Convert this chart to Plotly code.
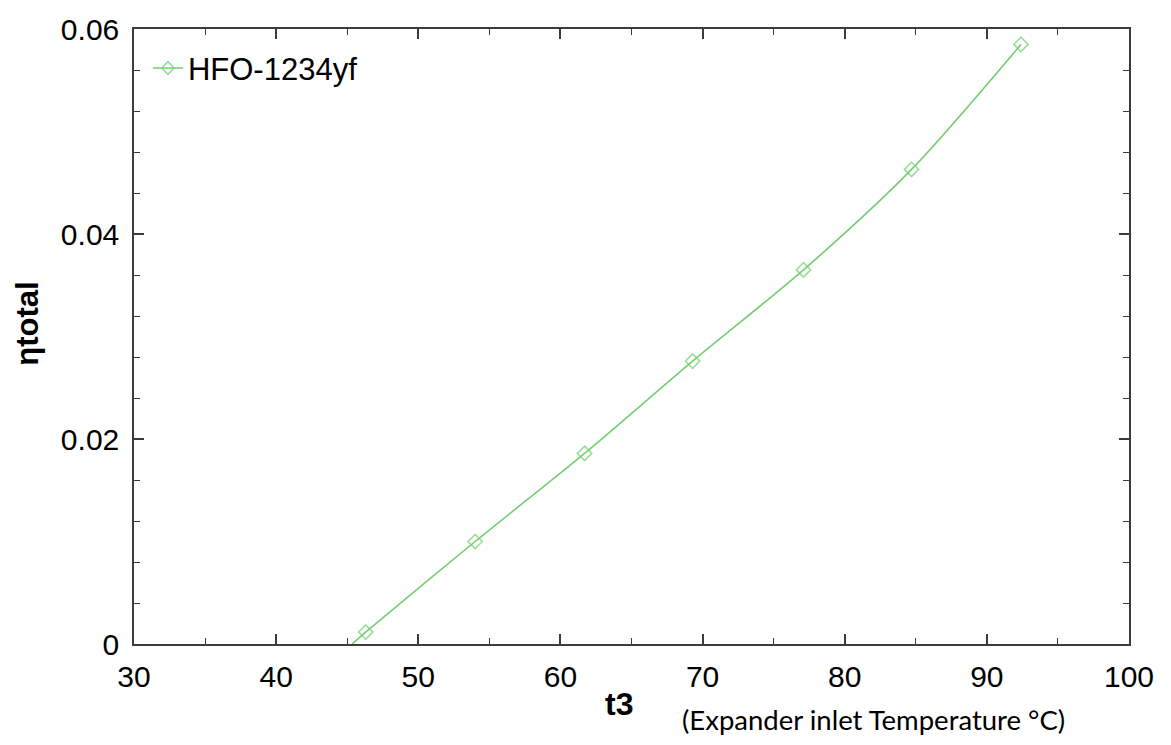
import plotly.graph_objects as go

# Expander inlet temperature (°C) and total cycle efficiency for HFO-1234yf
t3 = [46.3, 54.0, 61.7, 69.3, 77.1, 84.7, 92.4]
eta_total = [0.00116, 0.0100, 0.0186, 0.0276, 0.0365, 0.0463, 0.0585]

# the fitted curve is continued down to the zero-efficiency point
t3_zero = 45.35
eta_zero = 0.0

series_name = "HFO-1234yf"
x_title = "t3"
x_note = "(Expander inlet Temperature °C)"
y_title = "ηtotal"

green = "#74cf70"
axis_col = "#3c3c3c"

line_x = [t3_zero] + t3
line_y = [eta_zero] + eta_total
marker_sizes = [0] + [11] * len(t3)

fig = go.Figure()
fig.add_trace(go.Scatter(
    x=line_x, y=line_y,
    mode="lines+markers",
    name=series_name,
    line=dict(color=green, width=1.6, shape="spline", smoothing=0.8),
    marker=dict(symbol="diamond-open", size=marker_sizes, color=green,
                line=dict(color=green, width=1.6)),
    cliponaxis=True,
))

tick_font = dict(family="Liberation Sans, Arial", size=30, color="black")

fig.update_xaxes(
    range=[30, 100], dtick=10, tick0=30,
    showline=True, linecolor=axis_col, linewidth=1.5, mirror="allticks",
    ticks="inside", ticklen=10, tickwidth=1.5, tickcolor=axis_col,
    minor=dict(dtick=5, ticks="inside", ticklen=6, tickwidth=1.2, tickcolor=axis_col),
    showgrid=False, zeroline=False,
    tickfont=tick_font, ticklabelstandoff=5,
)
fig.update_yaxes(
    range=[0, 0.06], dtick=0.02, tick0=0,
    showline=True, linecolor=axis_col, linewidth=1.5, mirror="allticks",
    ticks="inside", ticklen=10, tickwidth=1.5, tickcolor=axis_col,
    minor=dict(dtick=0.004, ticks="inside", ticklen=6, tickwidth=1.2, tickcolor=axis_col),
    showgrid=False, zeroline=False,
    tickfont=tick_font, ticklabelstandoff=7,
)

fig.update_layout(
    width=1171, height=745,
    margin=dict(l=134, r=42, t=22, b=101),
    plot_bgcolor="white", paper_bgcolor="white",
    showlegend=True,
    legend=dict(
        x=0.014, y=0.936, xanchor="left", yanchor="middle",
        bgcolor="white", borderwidth=0,
        font=dict(family="Liberation Sans, Arial", size=31, color="black"),
        itemwidth=30,
    ),
    annotations=[
        dict(text=f"<b>{y_title}</b>", xref="paper", yref="paper",
             x=-0.107, y=0.52, xanchor="center", yanchor="middle",
             textangle=-90, showarrow=False,
             font=dict(family="Liberation Sans, Arial", size=31, color="black")),
        dict(text=f"<b>{x_title}</b>", xref="paper", yref="paper",
             x=0.487, y=-0.097, xanchor="center", yanchor="middle",
             showarrow=False,
             font=dict(family="Liberation Sans, Arial", size=32, color="black")),
        dict(text=x_note, xref="paper", yref="paper",
             x=0.7437, y=-0.123, xanchor="center", yanchor="middle",
             showarrow=False,
             font=dict(family="Lato", size=27.5, color="black")),
    ],
)

fig.write_html("out.html")
